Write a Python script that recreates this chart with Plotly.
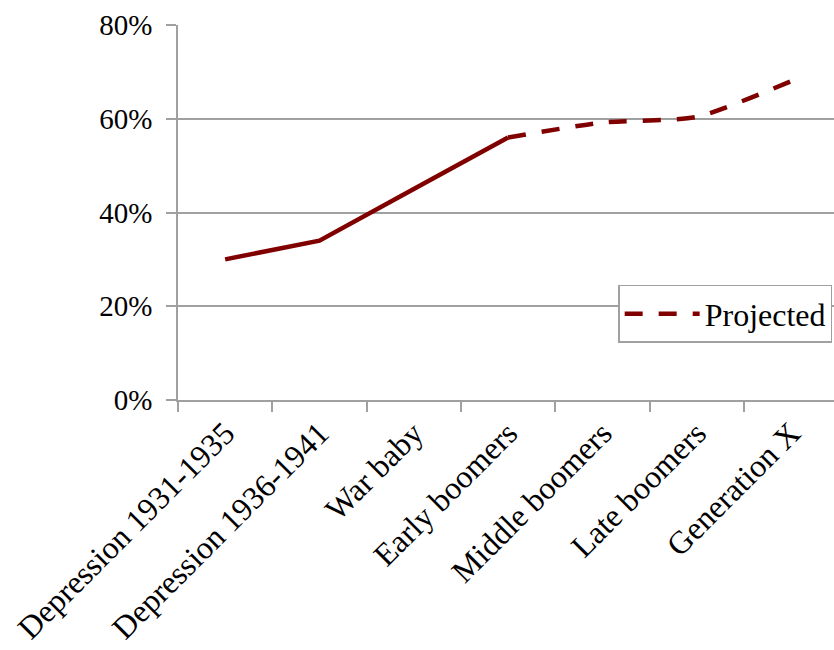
import plotly.graph_objects as go

categories = ["Depression 1931-1935", "Depression 1936-1941", "War baby",
              "Early boomers", "Middle boomers", "Late boomers", "Generation X"]
actual = [30.0, 34.0, 45.0, 56.0, None, None, None]
projected = [None, None, None, 56.0, 59.2, 60.4, 68.0]
y_ticks = [0, 20, 40, 60, 80]
y_tick_text = ["0%", "20%", "40%", "60%", "80%"]

color = "#800000"
font = "Liberation Serif, Times New Roman, serif"

fig = go.Figure()
fig.add_trace(go.Scatter(x=categories, y=actual, mode="lines",
                         line=dict(color=color, width=4.5),
                         showlegend=False, connectgaps=False))
fig.add_trace(go.Scatter(x=categories, y=projected, mode="lines", name="Projected",
                         line=dict(color=color, width=4.5, dash="18px,16px",
                                   shape="spline", smoothing=0.6),
                         connectgaps=False))

fig.update_layout(
    width=834, height=650,
    margin=dict(l=178, r=0, t=25, b=250),
    paper_bgcolor="white", plot_bgcolor="white",
    font=dict(family=font, size=30, color="black"),
    xaxis=dict(type="category", range=[-0.5, 6.456], tickson="boundaries",
               ticks="outside", ticklen=10, tickcolor="#a0a0a0", tickwidth=1.5,
               showline=True, linecolor="#a0a0a0", linewidth=1.5,
               showgrid=False, tickangle=-45, tickfont=dict(size=32)),
    yaxis=dict(range=[0, 80], tickvals=y_ticks, ticktext=y_tick_text,
               ticks="outside", ticklen=10, tickcolor="#a0a0a0", tickwidth=1.5,
               showline=True, linecolor="#a0a0a0", linewidth=1.5,
               showgrid=True, gridcolor="#a0a0a0", gridwidth=1.5,
               zeroline=False, tickfont=dict(size=29), ticklabelstandoff=8),
    legend=dict(x=0.671, y=0.307, xanchor="left", yanchor="top",
                bordercolor="#a0a0a0", borderwidth=1.5, bgcolor="white",
                font=dict(size=32), itemwidth=75),
)

fig.write_html("out.html")
